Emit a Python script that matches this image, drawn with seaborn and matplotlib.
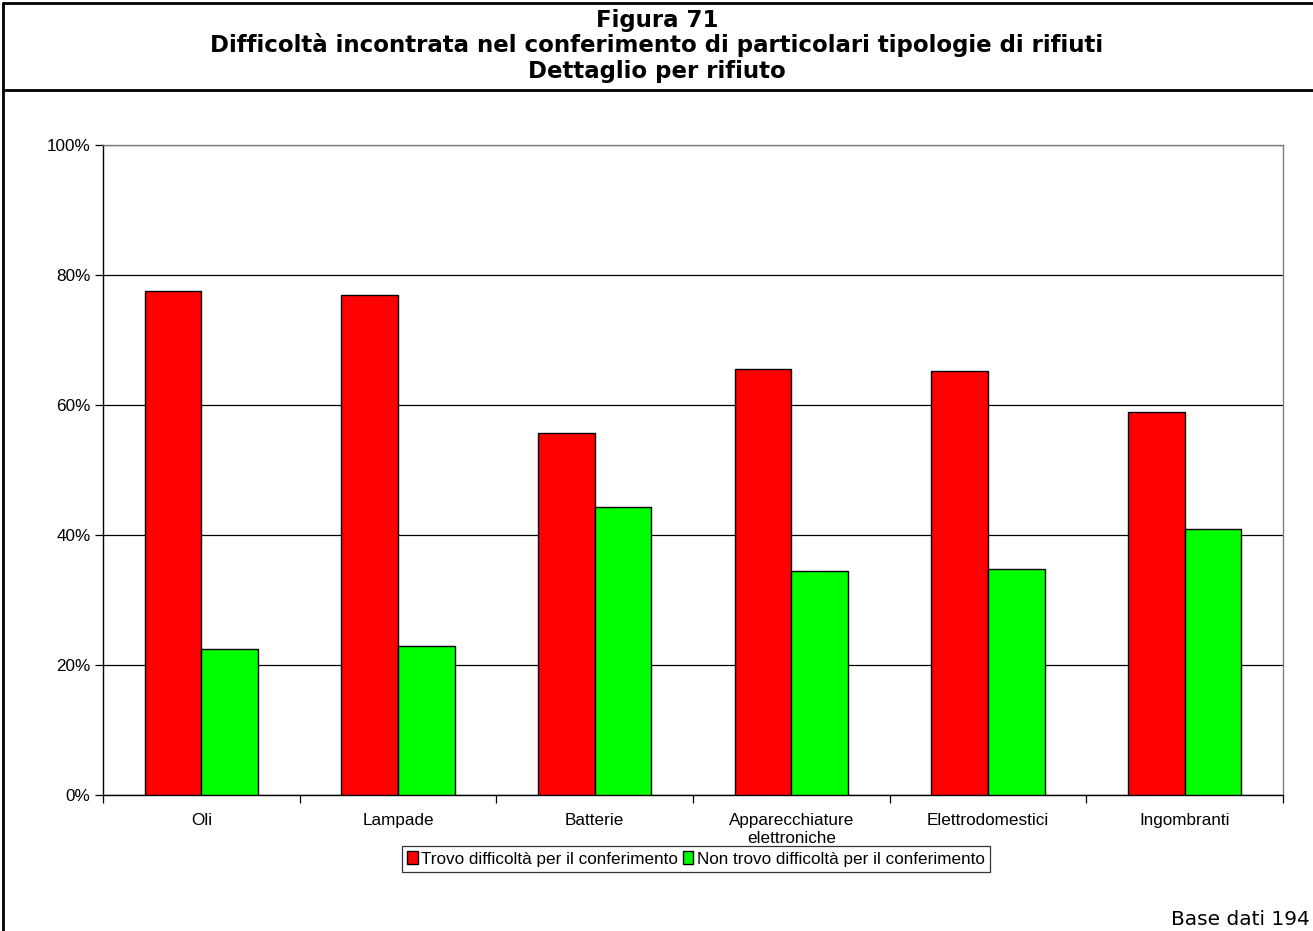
import matplotlib
matplotlib.use("Agg")
import matplotlib.pyplot as plt
import seaborn as sns
import pandas as pd
import numpy as np
from matplotlib.lines import Line2D
from matplotlib.patches import Patch

categories = ["Oli", "Lampade", "Batterie", "Apparecchiature\nelettroniche",
              "Elettrodomestici", "Ingombranti"]
series_names = ["Trovo difficoltà per il conferimento",
                "Non trovo difficoltà per il conferimento"]
trovo = [77.6, 77.0, 55.7, 65.6, 65.2, 59.0]
non_trovo = [22.4, 23.0, 44.3, 34.4, 34.8, 41.0]
y_ticks = [0, 20, 40, 60, 80, 100]
colors = ["#FF0000", "#00FF00"]

df = pd.DataFrame({
    "categoria": categories * 2,
    "serie": [series_names[0]] * len(categories) + [series_names[1]] * len(categories),
    "valore": trovo + non_trovo,
})

sns.set_theme(style="white")
plt.rcParams["font.family"] = ["Liberation Sans", "DejaVu Sans"]
plt.rcParams["text.color"] = "black"
plt.rcParams["xtick.color"] = "black"
plt.rcParams["ytick.color"] = "black"

W, H = 1313, 931
fig = plt.figure(figsize=(W / 100, H / 100), dpi=100)
ax = fig.add_axes([103 / W, 1 - 795 / H, 1180 / W, 650 / H])

sns.barplot(data=df, x="categoria", y="valore", hue="serie", order=categories,
            hue_order=series_names, palette=colors, width=0.575,
            edgecolor="black", linewidth=1.0, saturation=1, ax=ax, legend=False,
            zorder=3)

ax.set_ylim(0, 100)
ax.set_xlim(-0.5, len(categories) - 0.5)
ax.set_yticks(y_ticks)
ax.set_yticklabels([f"{v}%" for v in y_ticks])
ax.yaxis.grid(True, color="black", linewidth=0.9)
ax.set_axisbelow(True)
ax.set_xlabel("")
ax.set_ylabel("")

tick_fs = 12.3
ax.tick_params(axis="y", left=True, length=6, width=0.9, color="black",
               labelsize=tick_fs, pad=3, direction="out", labelcolor="black")
ax.tick_params(axis="x", which="major", bottom=False, length=0,
               labelsize=tick_fs, pad=13, labelcolor="black")
ax.set_xticks(np.arange(len(categories) + 1) - 0.5, minor=True)
ax.tick_params(axis="x", which="minor", bottom=True, length=6, width=0.9,
               color="black", direction="out")
for lbl in ax.get_xticklabels():
    lbl.set_linespacing(1.22)
    lbl.set_verticalalignment("top")

for side in ["left", "bottom"]:
    ax.spines[side].set_color("black")
    ax.spines[side].set_linewidth(1.0)
for side in ["top", "right"]:
    ax.spines[side].set_color("#808080")
    ax.spines[side].set_linewidth(1.0)

handles = [Patch(facecolor=c, edgecolor="black", linewidth=1.0) for c in colors]
leg = fig.legend(handles, series_names, loc="center",
                 bbox_to_anchor=(696 / W, 1 - 859 / H), ncol=2, fontsize=tick_fs,
                 frameon=True, fancybox=False, edgecolor="black",
                 handlelength=0.6, handleheight=0.8, handletextpad=0.2,
                 columnspacing=0.3, borderpad=0.3, borderaxespad=0)
leg.get_frame().set_linewidth(0.9)

# Header frame lines
fig.add_artist(Line2D([3 / W, 1], [1 - 3 / H, 1 - 3 / H], color="black", linewidth=2,
                      transform=fig.transFigure))
fig.add_artist(Line2D([3 / W, 3 / W], [0, 1 - 3 / H], color="black", linewidth=2,
                      transform=fig.transFigure))
fig.add_artist(Line2D([3 / W, 1], [1 - 90 / H, 1 - 90 / H], color="black", linewidth=2,
                      transform=fig.transFigure))

title_lines = ["Figura 71",
               "Difficoltà incontrata nel conferimento di particolari tipologie di rifiuti",
               "Dettaglio per rifiuto"]
title_baselines = [27, 52, 78]
for t, yb in zip(title_lines, title_baselines):
    fig.text(657 / W, 1 - yb / H, t, ha="center", va="baseline",
             fontsize=16.5, fontweight="bold", family=["DejaVu Sans"], color="black")

fig.text(1310 / W, 1 - 925 / H, "Base dati 194", ha="right", va="baseline",
         fontsize=14.5, family=["DejaVu Sans"], color="black")

fig.savefig("out.png", dpi=100, facecolor="white")
